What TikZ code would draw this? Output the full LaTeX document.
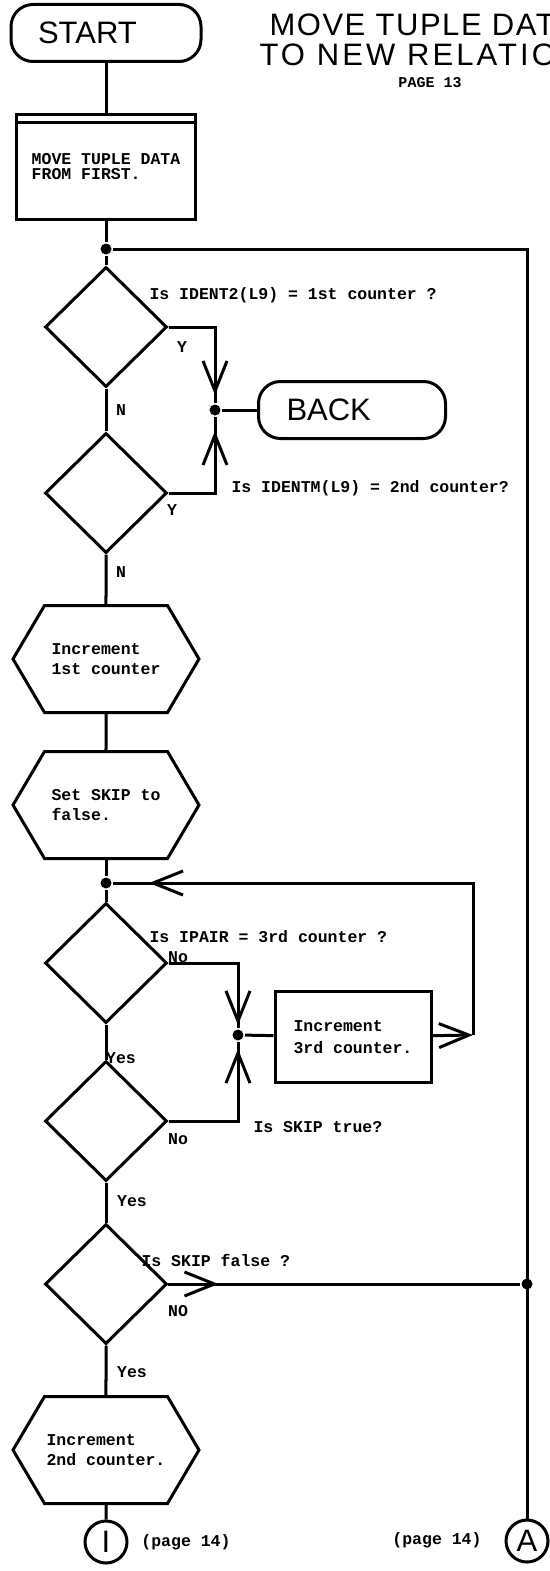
\documentclass[tikz,border=0pt]{standalone}
\usepackage{fontspec}
\usetikzlibrary{shapes.geometric,shapes.symbols,arrows.meta,decorations.markings}
\newfontfamily\typefont{Liberation Mono}
\newfontfamily\letterfont{Liberation Sans}
\newfontfamily\spacedfont[LetterSpace=5]{Liberation Sans}
\newfontfamily\widefont[LetterSpace=10]{Liberation Sans}
\newcommand{\typed}{\typefont\bfseries\fontsize{16.5}{20}\selectfont}
\newcommand{\lettered}{\letterfont\fontsize{31}{36}\selectfont}

\tikzset{
  openhead/.tip={Straight Barb[length=30pt,width=24pt]},
  terminal/.style={draw, rounded corners=22pt, minimum height=57pt, inner ysep=0pt, align=left, font=\lettered},
  process/.style={draw, minimum width=179pt, minimum height=105pt, align=left,
    font=\typefont\bfseries\fontsize{16.5}{15}\selectfont},
  decision/.style={draw, diamond, minimum width=122pt, minimum height=120pt, inner sep=0pt},
  prep/.style={draw, signal, signal to=east and west, signal pointer angle=119,
    minimum width=186pt, minimum height=107pt, inner sep=0pt, align=left, font=\typed},
  connector/.style={draw, circle, minimum size=42pt, inner sep=0pt, font=\lettered},
  note/.style={font=\typed, inner sep=0pt},
  joint/.style={circle, fill, inner sep=0pt, minimum size=11pt},
  midhead/.style={postaction={decorate},
    decoration={markings, mark=at position #1 with {\arrow{openhead}}}},
}

\begin{document}
\begin{tikzpicture}[x=1pt, y=-1pt, line width=3pt]
  \path[fill=white] (0,0) rectangle (549,1571);
  \useasboundingbox (0,0) rectangle (549,1571);

  % heading, running off the sheet
  \begin{scope}
    \clip (0,0) rectangle (549,1571);
    \node[font=\spacedfont\fontsize{31}{36}\selectfont, inner sep=0pt, anchor=west] (head1) at (268,25) {MOVE TUPLE DATA};
    \node[font=\widefont\fontsize{31}{36}\selectfont, inner sep=0pt, anchor=west] (head2) at (258,55) {TO NEW RELATION};
  \end{scope}
  \node[note, font=\typefont\bfseries\fontsize{15}{18}\selectfont] (pagenum) at (430,83) {PAGE 13};

  % main column
  \node[terminal, text width=136pt, inner xsep=27pt] (start) at (106,33) {START};
  \node[process] (first) at (106,167) {MOVE TUPLE DATA\\FROM FIRST.};
  \draw ([yshift=-9pt]first.north west) -- ([yshift=-9pt]first.north east);
  \node[joint] (j1) at (106,249) {};
  \node[decision] (d1) at (106,327) {};
  \node[decision] (d2) at (106,493) {};
  \node[prep] (inc1) at (106,659) {Increment\\1st counter};
  \node[prep] (setskip) at (106,805) {Set SKIP to\\false.};
  \node[joint] (j3) at (106,883) {};
  \node[decision] (d3) at (106,963) {};
  \node[decision] (d4) at (106,1121) {};
  \node[decision] (d5) at (106,1284) {};
  \node[prep] (inc2) at (106,1450) {Increment\\2nd counter.};
  \node[connector] (out1) at (106,1542) {I};

  % side column
  \node[joint] (jb) at (215,410) {};
  \node[terminal, text width=131pt, inner xsep=28pt] (back) at (352,410) {BACK};
  \node[joint] (jc) at (238,1035) {};
  \node[process, minimum width=156pt, minimum height=91pt,
    font=\typed\fontsize{16.5}{22}\selectfont] (inc3) at (353,1037) {Increment\\3rd counter.};
  \coordinate (turn) at (473,1035);
  \node[connector] (outA) at (527,1541) {A};
  \node[joint] (j5) at (527,1284) {};

  % flow lines
  \draw (start) -- (first);
  \draw (first) -- (j1) -- (d1);
  \draw (d1) -- (d2);
  \draw[midhead=-8pt] (d1.east) -| (jb);
  \draw[midhead=-14pt] (d2.east) -| (jb);
  \draw (jb) -- (back);
  \draw (d2) -- (inc1);
  \draw (inc1) -- (setskip);
  \draw (setskip) -- (j3) -- (d3);
  \draw[midhead=-3pt] (d3.east) -| (jc);
  \draw[midhead=-7pt] (d4.east) -| (jc);
  \draw (jc) -- (inc3);
  \draw[-{openhead}] (inc3) -- (turn);
  \draw[midhead=-36pt] (turn) |- (j3);
  \draw (d3) -- (d4);
  \draw (d4) -- (d5);
  \draw (d5) -- (inc2);
  \draw (inc2) -- (out1);
  \draw (j1) -| (outA);
  \draw[midhead=50pt] (d5) -- (j5);

  % questions and answers
  \node[note, anchor=west] (q1) at (148,295) {Is IDENT2(L9) = 1st counter ?};
  \node[note] (y1) at (182,347) {Y};
  \node[note] (n1) at (121,410) {N};
  \node[note, anchor=west] (q2) at (230,488) {Is IDENTM(L9) = 2nd counter?};
  \node[note] (y2) at (172,510) {Y};
  \node[note] (n2) at (121,572) {N};
  \node[note, anchor=west] (q3) at (148,937) {Is IPAIR = 3rd counter ?};
  \node[note] (no3) at (178,957) {No};
  \node[note] (yes3) at (121,1058) {Yes};
  \node[note] (no4) at (178,1139) {No};
  \node[note, anchor=west] (q4) at (252,1127) {Is SKIP true?};
  \node[note] (yes4) at (132,1201) {Yes};
  \node[note, anchor=west] (q5) at (140,1260) {Is SKIP false ?};
  \node[note] (no5) at (178,1311) {NO};
  \node[note] (yes5) at (132,1372) {Yes};
  \node[note] (pg1) at (186,1542) {(page 14)};
  \node[note] (pg2) at (437,1540) {(page 14)};
\end{tikzpicture}
\end{document}
